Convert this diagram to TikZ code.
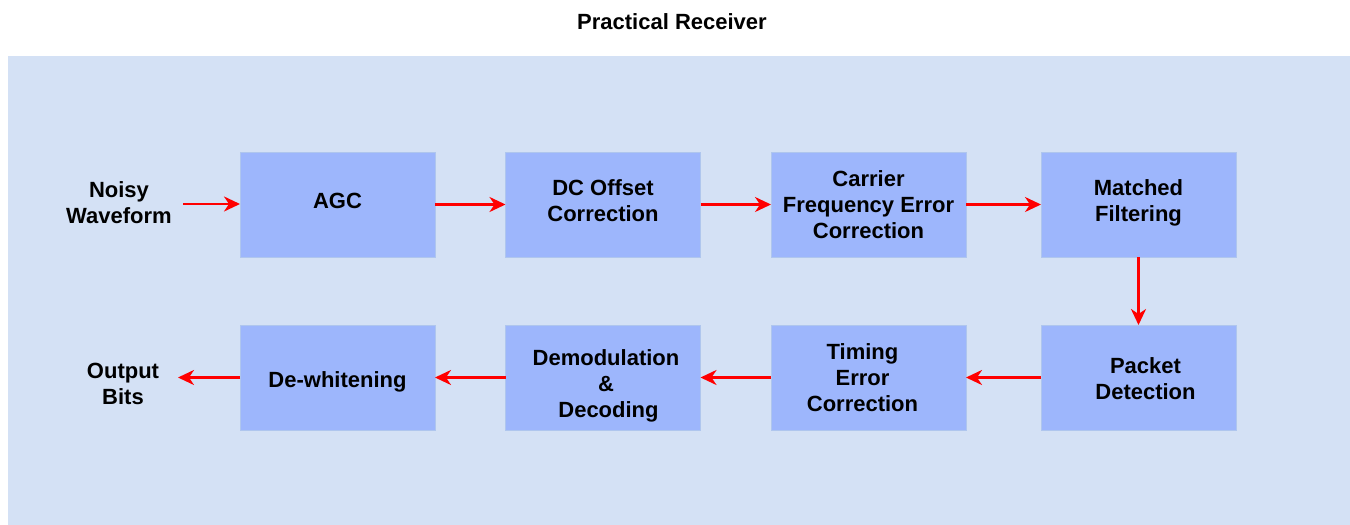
\documentclass[tikz,border=0pt]{standalone}
\usepackage{fontspec}
\setmainfont{Liberation Sans}
\usetikzlibrary{arrows.meta}
\definecolor{bgblue}{HTML}{D4E1F5}
\definecolor{boxfill}{HTML}{9DB6FC}
\definecolor{boxline}{HTML}{AFC6EE}
\definecolor{arrred}{HTML}{FF0000}
\tikzset{
  blk/.style={draw=boxline, line width=1pt, fill=boxfill, minimum width=195pt, minimum height=105pt,
    inner sep=0pt, outer sep=0pt},
  lbl/.style={inner sep=0pt, outer sep=0pt, align=center, font=\bfseries\fontsize{22}{26}\selectfont},
  flow/.style={draw=arrred, line width=2.5pt, -{Stealth[length=16pt,width=15pt,inset=5pt]}},
}
\begin{document}
\begin{tikzpicture}[x=1pt,y=-1pt]
\useasboundingbox (0,0) rectangle (1350,525);
\fill[bgblue] (8,56) rectangle (1350,525);
\node[lbl] (title) at (672,22) {Practical Receiver};
% row 1
\node[blk, label={[lbl, yshift=4pt]center:AGC}] (agc) at (337.5,204.5) {};
\node[blk, label={[lbl, yshift=4pt]center:{DC Offset\\Correction}}] (dc) at (603,204.5) {};
\node[blk, label={[lbl]center:{Carrier\\Frequency Error\\Correction}}] (cfo) at (868.5,204.5) {};
\node[blk, label={[lbl, yshift=2pt]center:{Matched\\Filtering}}] (mf) at (1138.5,204.5) {};
% row 2
\node[blk, label={[lbl, xshift=7pt, yshift=-1pt]center:{Packet\\Detection}}] (pd) at (1138.5,377.5) {};
\node[blk, label={[lbl, xshift=-6pt]center:{Timing\\Error\\Correction}}] (tec) at (868.5,377.5) {};
\node[blk, label={[lbl, xshift=3pt, yshift=-8pt]center:{Demodulation\\\&\\\hspace*{5pt}Decoding}}] (dd) at (603,377.5) {};
\node[blk, label={[lbl, yshift=-4pt]center:De-whitening}] (dw) at (337.5,377.5) {};
% labels
\node[lbl] (nw) at (119,203) {Noisy\\Waveform};
\node[lbl] (ob) at (123,383.5) {Output\\Bits};
\coordinate (inS) at (183,204);
\coordinate (outE) at (178,377.5);
% connectors
\draw[flow] (inS) -- (agc.west |- inS);
\draw[flow] (agc) -- (dc);
\draw[flow] (dc) -- (cfo);
\draw[flow] (cfo) -- (mf);
\draw[flow] (mf) -- (pd);
\draw[flow] (pd) -- (tec);
\draw[flow] (tec) -- (dd);
\draw[flow] (dd) -- (dw);
\draw[flow] (dw.west |- outE) -- (outE);
\end{tikzpicture}
\end{document}
